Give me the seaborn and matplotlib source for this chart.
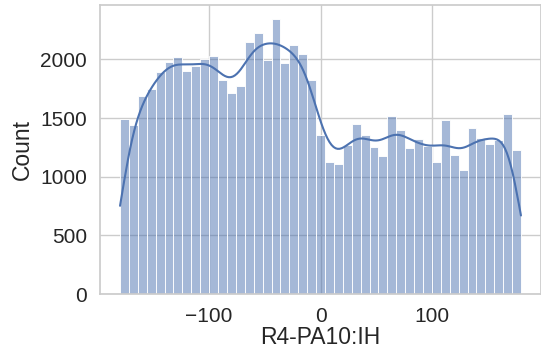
import numpy as np
import pandas as pd
import matplotlib
matplotlib.use("Agg")
import matplotlib.pyplot as plt
import seaborn as sns

# Histogram: 45 bins of 8 degrees on [-180, 180]
bin_left = -180
bin_width = 8
counts = [
    1494, 1437, 1686, 1751, 1894, 1980, 2017, 1903, 1943, 2000,
    2029, 1823, 1709, 1777, 2151, 2223, 1994, 2346, 1971, 2123,
    2043, 1823, 1357, 1129, 1109, 1266, 1446, 1351, 1257, 1180,
    1514, 1400, 1246, 1323, 1260, 1129, 1480, 1189, 1060, 1414,
    1331, 1280, 1309, 1537, 1231,
]
xlabel = "R4-PA10:IH"
ylabel = "Count"

centers = [bin_left + bin_width * (i + 0.5) for i in range(len(counts))]
df = pd.DataFrame({xlabel: centers, "w": counts})
bin_right = bin_left + bin_width * len(counts)

sns.set_theme(style="whitegrid")
plt.rcParams["font.family"] = ["Liberation Sans", "DejaVu Sans"]

fig = plt.figure(figsize=(5.41, 3.54), dpi=100)
ax = fig.add_axes([100 / 541, 1 - 294 / 354, 441 / 541, 289 / 354])

w = np.asarray(counts, float)
n_total = w.sum()
neff = w.sum() ** 2 / (w ** 2).sum()
bw_adj = (n_total ** (-0.2)) / (neff ** (-0.2))

sns.histplot(data=df, x=xlabel, weights="w", bins=len(counts),
             binrange=(bin_left, bin_right),
             kde=True,
             kde_kws={"bw_adjust": bw_adj, "cut": 3, "clip": (bin_left, bin_right)},
             ax=ax)

ax.set_ylabel(ylabel, fontsize=16.5)
ax.set_xlabel(xlabel, fontsize=16.5, labelpad=0)
ax.tick_params(labelsize=15)
ax.set_yticks([0, 500, 1000, 1500, 2000])
ax.set_xticks([-100, 0, 100])

fig.savefig("out.png", dpi=100)
